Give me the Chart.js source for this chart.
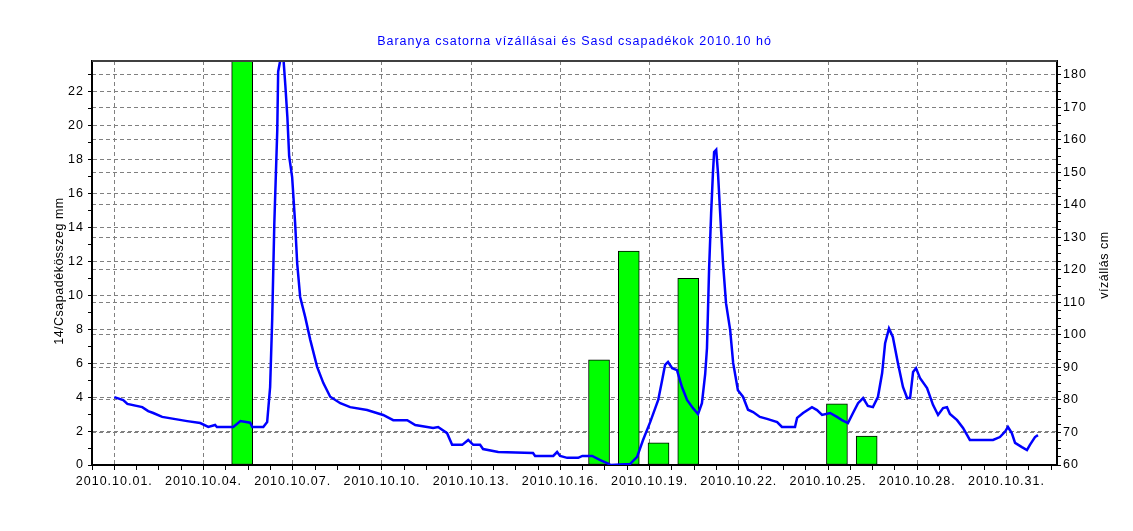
<html lang="hu">
<head>
<meta charset="UTF-8">
<title>Baranya csatorna vízállásai és Sasd csapadékok 2010.10 hó</title>
<script src="https://cdn.jsdelivr.net/npm/chart.js"></script>
<style>
  body { margin: 0; background: #fff; }
</style>
</head>
<body>
<canvas id="c" width="1133" height="531"></canvas>
<script>
// napi csapadek (Sasd), mm - a nap + kb. 7 ora kozepre rajzolva
const rainDays = [5, 17, 18, 19, 20, 25, 26];
const rainMm = [26, 6.2, 12.6, 1.3, 11.0, 3.6, 1.7];
const BAR_OFFSET = 0.3;

// vizallas (Baranya csatorna), cm - nap (tort resz = napszak)
const levelDay = [1.00, 1.30, 1.44, 1.94, 2.14, 2.31, 2.61, 3.45, 3.89, 4.16, 4.39, 4.45, 5.00, 5.24, 5.57, 5.64,
  6.01, 6.14, 6.24, 6.31, 6.38, 6.48, 6.51, 6.61, 6.68, 6.75, 6.82, 6.88, 6.98, 7.08, 7.15, 7.25, 7.42, 7.59,
  7.82, 8.03, 8.26, 8.60, 8.93, 9.50, 10.04, 10.38, 10.85, 11.12, 11.72, 11.89, 12.19, 12.36, 12.70, 12.90,
  13.07, 13.30, 13.40, 13.91, 15.08, 15.15, 15.76, 15.89, 15.99, 16.23, 16.60, 16.74, 17.07, 17.34, 17.57,
  17.70, 18.34, 18.58, 18.78, 19.02, 19.29, 19.42, 19.52, 19.62, 19.76, 19.92, 20.09, 20.26, 20.46, 20.63,
  20.76, 20.87, 20.93, 21.00, 21.07, 21.13, 21.17, 21.24, 21.30, 21.40, 21.47, 21.57, 21.71, 21.81, 21.97,
  22.14, 22.31, 22.48, 22.71, 22.95, 23.29, 23.45, 23.89, 23.96, 24.16, 24.46, 24.63, 24.80, 25.07, 25.30,
  25.47, 25.67, 25.84, 26.01, 26.18, 26.34, 26.51, 26.68, 26.82, 26.92, 27.05, 27.18, 27.35, 27.52, 27.66,
  27.76, 27.86, 27.96, 28.09, 28.33, 28.53, 28.70, 28.87, 29.00, 29.10, 29.34, 29.54, 29.77, 30.55, 30.78,
  30.95, 31.05, 31.18, 31.29, 31.52, 31.69, 31.79, 31.96, 32.06];
const levelCm = [80.9, 80.0, 78.8, 77.8, 76.6, 76.0, 74.8, 73.5, 72.9, 71.7, 72.3, 71.7, 71.7, 73.5, 73.0, 71.7,
  71.7, 73.2, 84.0, 105.0, 134.0, 163.0, 181.0, 186.0, 186.0, 177.0, 167.0, 155.0, 148.6, 134.5, 122.0, 111.7, 105.5, 98.5,
  90.2, 85.2, 81.0, 79.0, 77.8, 76.9, 75.4, 73.8, 73.8, 72.3, 71.4, 71.7, 69.8, 66.2, 66.2, 67.7,
  66.2, 66.2, 64.9, 64.0, 63.7, 62.8, 62.8, 64.0, 62.8, 62.2, 62.2, 62.8, 62.8, 61.5, 60.6,
  60.0, 60.3, 62.5, 67.7, 73.2, 80.0, 86.0, 90.8, 91.7, 89.8, 89.2, 84.0, 80.0, 77.5, 75.7,
  79.0, 88.0, 96.0, 120.0, 137.5, 149.8, 156.3, 157.0, 149.8, 133.0, 122.0, 109.8, 101.5, 91.4, 83.0,
  81.0, 77.0, 76.3, 74.8, 74.2, 73.2, 71.7, 71.7, 74.5, 76.0, 77.8, 76.9, 75.4, 76.0, 74.8,
  73.8, 72.9, 76.0, 79.0, 80.6, 78.2, 77.8, 81.0, 88.3, 97.5, 102.0, 99.4, 91.4, 84.0, 80.6,
  80.6, 88.6, 89.8, 86.8, 83.7, 78.5, 75.4, 77.5, 77.8, 75.7, 73.8, 71.4, 67.7, 67.7, 68.6,
  70.2, 71.7, 69.8, 66.8, 65.5, 64.6, 66.2, 68.6, 69.2];

const chartTitle = 'Baranya csatorna vízállásai és Sasd csapadékok 2010.10 hó';
const leftTitle = '14/Csapadékösszeg mm';
const rightTitle = 'vízállás cm';

const FONT = '"Liberation Sans", Arial, sans-serif';
const FSIZE = 12.5;
const GRID = '#808080';
const NONE = 'rgba(0,0,0,0)';

function isMajorDay(v) {
  let k = (v - 1) / 3;
  return Math.abs(k - Math.round(k)) < 1e-6;
}
function pad(n) { return n < 10 ? '0' + n : '' + n; }
function tickVal(c) { return c && c.tick ? c.tick.value : NaN; }

// felso keret + tengelyfeliratok (mindket oldalon alulrol felfele olvashato)
const extras = {
  id: 'extras',
  beforeDraw(chart) {
    // a regi windowsos betuk szelesebbek, kis betukoz
    chart.ctx.letterSpacing = '1px';
  },
  afterDraw(chart) {
    const ctx = chart.ctx;
    const a = chart.chartArea;
    ctx.save();
    ctx.strokeStyle = '#404040';
    ctx.lineWidth = 2;
    ctx.beginPath();
    ctx.moveTo(a.left, a.top);
    ctx.lineTo(a.right, a.top);
    ctx.stroke();

    ctx.fillStyle = '#000';
    ctx.font = FSIZE + 'px ' + FONT;
    ctx.letterSpacing = '0.5px';
    ctx.textAlign = 'center';
    ctx.textBaseline = 'middle';
    let mid = (a.top + a.bottom) / 2;
    [[leftTitle, a.left - 32, mid + 8], [rightTitle, a.right + 48, mid + 2]].forEach(function (t) {
      ctx.save();
      ctx.translate(t[1], t[2]);
      ctx.rotate(-Math.PI / 2);
      ctx.fillText(t[0], 0, 0);
      ctx.restore();
    });
    ctx.restore();
  }
};

const tickFont = { family: FONT, size: FSIZE };

new Chart(document.getElementById('c'), {
  data: {
    datasets: [
      {
        type: 'line',
        data: levelDay.map((d, i) => ({ x: d, y: levelCm[i] })),
        yAxisID: 'y1',
        borderColor: '#0000ff',
        borderWidth: 2.5,
        pointRadius: 0,
        tension: 0,
        order: 0
      },
      {
        type: 'bar',
        data: rainDays.map((d, i) => ({ x: d + BAR_OFFSET, y: rainMm[i] })),
        yAxisID: 'y',
        backgroundColor: '#00ff00',
        borderColor: '#000',
        borderWidth: 1,
        borderSkipped: false,
        barThickness: 21,
        order: 1
      }
    ]
  },
  options: {
    responsive: false,
    animation: false,
    layout: { padding: 0 },
    plugins: {
      legend: { display: false },
      tooltip: { enabled: false },
      title: {
        display: true,
        text: chartTitle,
        color: '#0000ff',
        fullSize: false,
        font: { family: FONT, size: FSIZE, weight: 'normal' },
        padding: { top: 34, bottom: 12 }
      }
    },
    scales: {
      x: {
        type: 'linear',
        min: 0.25,
        max: 32.7,
        offset: false,
        afterBuildTicks: (s) => {
          let t = [];
          for (let k = -1; k <= 42; k++) t.push({ value: 1 + k * 0.75 });
          s.ticks = t;
        },
        afterFit: (s) => { s.height = 66; },
        ticks: {
          autoSkip: false,
          maxRotation: 0,
          color: '#000',
          padding: 4,
          font: tickFont,
          callback: (v) => isMajorDay(v) ? '2010.10.' + pad(Math.round(v)) + '.' : ''
        },
        grid: {
          offset: false,
          color: (c) => isMajorDay(tickVal(c)) ? GRID : NONE,
          tickColor: '#000',
          tickLength: 5,
          lineWidth: 1
        },
        border: { color: '#000', width: 2, dash: [4, 3] }
      },
      y: {
        position: 'left',
        min: 0,
        max: 23.8,
        afterBuildTicks: (s) => {
          let t = [];
          for (let v = 0; v <= 23; v++) t.push({ value: v });
          s.ticks = t;
        },
        afterFit: (s) => { s.width = 92; },
        ticks: {
          autoSkip: false,
          color: '#000',
          padding: 4,
          font: tickFont,
          callback: (v) => v % 2 === 0 ? '' + v : ''
        },
        grid: {
          color: (c) => tickVal(c) % 2 === 0 && tickVal(c) > 0 ? GRID : NONE,
          tickColor: '#000',
          tickLength: 4
        },
        border: { color: '#000', width: 2, dash: [4, 3] }
      },
      y1: {
        position: 'right',
        min: 60,
        max: 184.3,
        afterBuildTicks: (s) => {
          let t = [];
          for (let k = 0; k <= 49; k++) t.push({ value: 60 + k * 2.5 });
          s.ticks = t;
        },
        afterFit: (s) => { s.width = 76; },
        ticks: {
          autoSkip: false,
          color: '#000',
          padding: 2,
          font: tickFont,
          callback: (v) => v % 10 === 0 ? '' + v : ''
        },
        grid: {
          color: (c) => tickVal(c) % 10 === 0 && tickVal(c) > 60 ? GRID : NONE,
          tickColor: '#000',
          tickLength: 4
        },
        border: { color: '#000', width: 2, dash: [4, 3] }
      }
    }
  },
  plugins: [extras]
});
</script>
</body>
</html>
